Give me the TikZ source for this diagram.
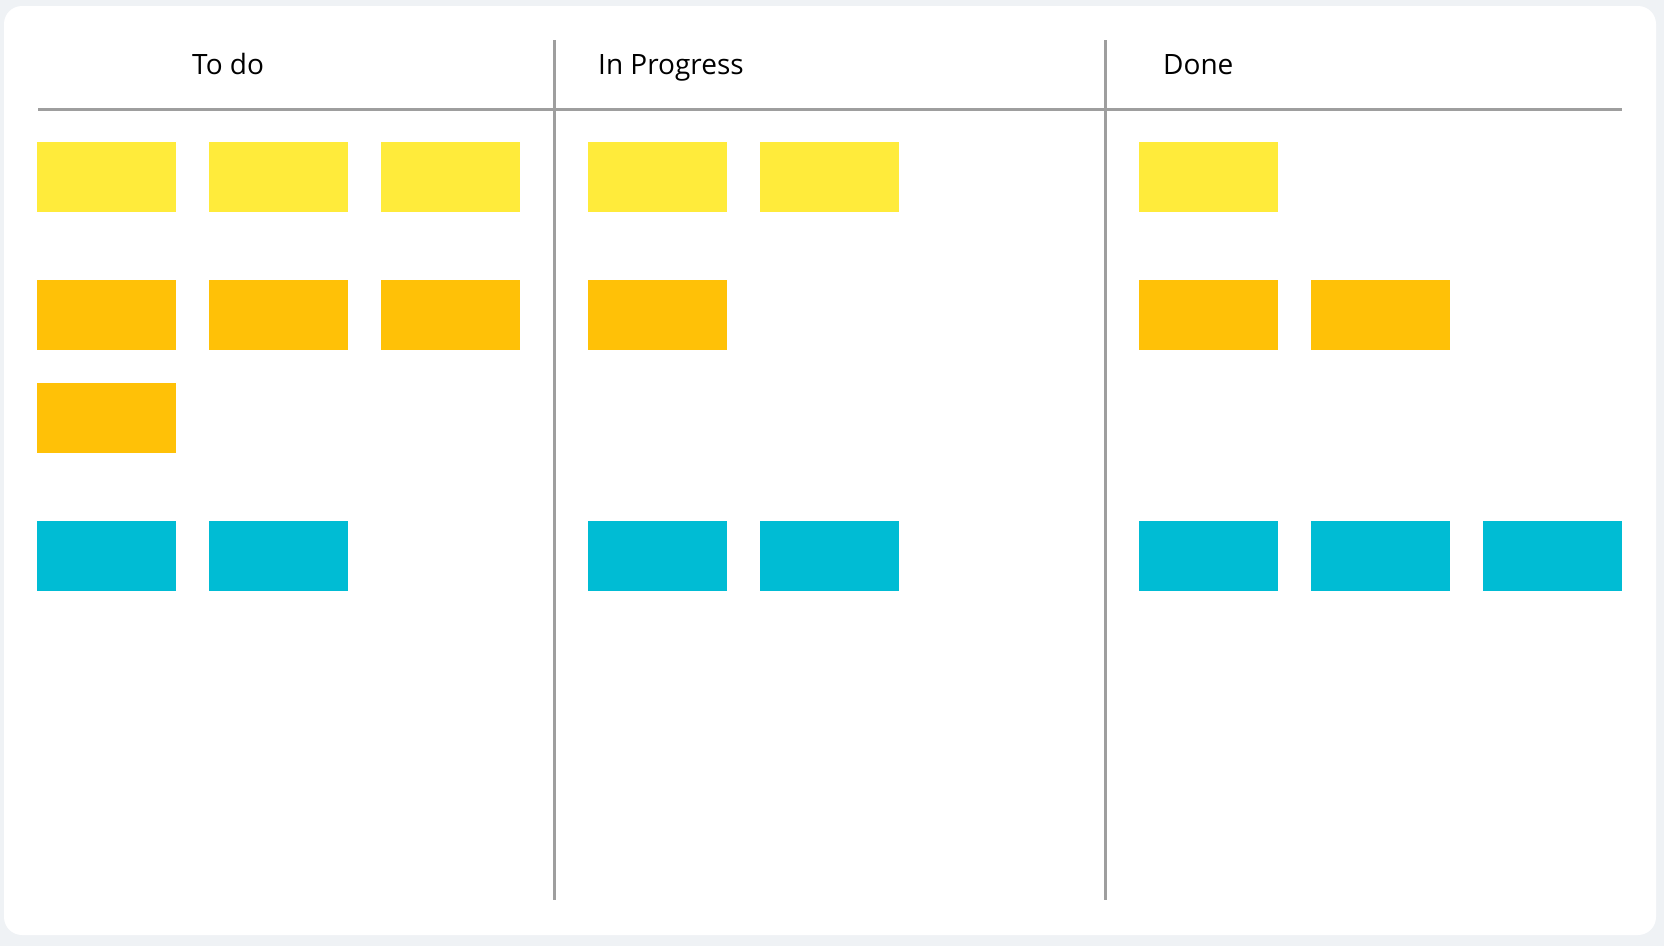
\documentclass[tikz,border=0pt]{standalone}
\usepackage{fontspec}
\setmainfont{Open Sans}
\definecolor{boardBg}{HTML}{EFF2F5}
\definecolor{laneGrey}{HTML}{9E9E9E}
\definecolor{noteYellow}{HTML}{FFEB3B}
\definecolor{noteAmber}{HTML}{FFC107}
\definecolor{noteCyan}{HTML}{00BCD4}
\tikzset{
    note/.style={minimum width=139pt, minimum height=70pt, inner sep=0pt, anchor=north west},
    lane/.style={draw=laneGrey, line width=3pt},
    title/.style={anchor=base west, inner sep=0pt, font=\fontsize{28}{34}\selectfont}
}
\begin{document}
\begin{tikzpicture}[x=1pt, y=-1pt]
    \useasboundingbox (0,0) rectangle (1664,946);
    \fill[boardBg] (0,0) rectangle (1664,946);
    \fill[white, rounded corners=18pt] (4,6) rectangle (1656,935);

    % Lanes
    \draw[lane] (38,109) -- (1622,109);
    \draw[lane] (554,40) -- (554,900);
    \draw[lane] (1105,40) -- (1105,900);

    % To do
    \begin{scope}
        \node[title] (todo) at (192,74.5) {To do};
        \node[note, fill=noteYellow] (todoY1) at (37,142) {};
        \node[note, fill=noteYellow] (todoY2) at (209,142) {};
        \node[note, fill=noteYellow] (todoY3) at (381,142) {};
        \node[note, fill=noteAmber] (todoA1) at (37,280) {};
        \node[note, fill=noteAmber] (todoA2) at (209,280) {};
        \node[note, fill=noteAmber] (todoA3) at (381,280) {};
        \node[note, fill=noteAmber] (todoA4) at (37,383) {};
        \node[note, fill=noteCyan] (todoC1) at (37,521) {};
        \node[note, fill=noteCyan] (todoC2) at (209,521) {};
    \end{scope}

    % In Progress
    \begin{scope}[xshift=551pt]
        \node[title] (prog) at (47,74.5) {In Progress};
        \node[note, fill=noteYellow] (progY1) at (37,142) {};
        \node[note, fill=noteYellow] (progY2) at (209,142) {};
        \node[note, fill=noteAmber] (progA1) at (37,280) {};
        \node[note, fill=noteCyan] (progC1) at (37,521) {};
        \node[note, fill=noteCyan] (progC2) at (209,521) {};
    \end{scope}

    % Done
    \begin{scope}[xshift=1102pt]
        \node[title] (done) at (61,74.5) {Done};
        \node[note, fill=noteYellow] (doneY1) at (37,142) {};
        \node[note, fill=noteAmber] (doneA1) at (37,280) {};
        \node[note, fill=noteAmber] (doneA2) at (209,280) {};
        \node[note, fill=noteCyan] (doneC1) at (37,521) {};
        \node[note, fill=noteCyan] (doneC2) at (209,521) {};
        \node[note, fill=noteCyan] (doneC3) at (381,521) {};
    \end{scope}
\end{tikzpicture}
\end{document}
